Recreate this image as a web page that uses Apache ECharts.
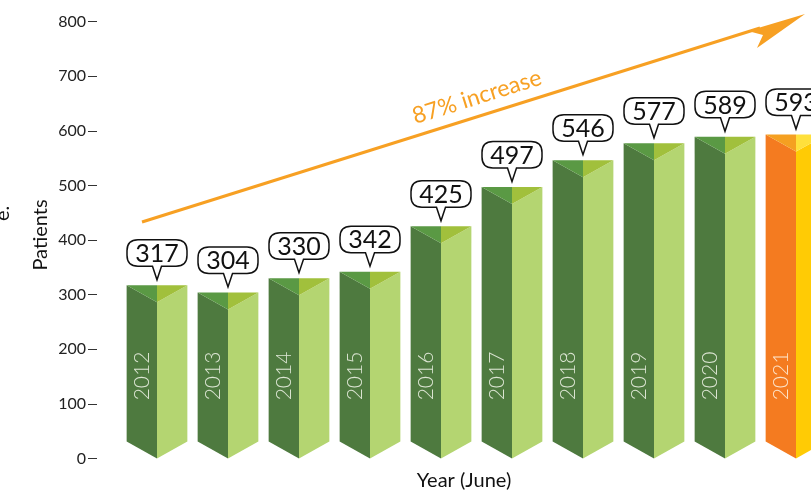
<!DOCTYPE html>
<html>
<head>
<meta charset="utf-8">
<script src="https://cdn.jsdelivr.net/npm/echarts@6/dist/echarts.min.js"></script>
<style>
html,body{margin:0;padding:0;background:#fff;}
#c{width:811px;height:493px;}
</style>
</head>
<body>
<div id="c"></div>
<script>
// ---- data ----
const years = ['2012','2013','2014','2015','2016','2017','2018','2019','2020','2021'];
const patients = [317, 304, 330, 342, 425, 497, 546, 577, 589, 593];
const yTicks = [0, 100, 200, 300, 400, 500, 600, 700, 800];
const increaseLabel = '87% increase';

// ---- styles ----
const greenFaces = {left:'#4e7a3f', right:'#b4d571', topLeft:'#5a9944', topRight:'#a1c03c', text:'#dce5d3'};
const orangeFaces = {left:'#f47b20', right:'#ffcb05', topLeft:'#f5a021', topRight:'#ffe03c', text:'#fde3c8'};
const FONT = 'Lato, "Open Sans", sans-serif';

const chart = echarts.init(document.getElementById('c'), null, {renderer:'canvas'});

function renderItem(params, api) {
  const idx = api.value(0);
  const v = api.value(1);
  const top = api.coord([idx, v]);
  const base = api.coord([idx, 0]);
  const bw = api.size([1, 0])[0] * 0.855;
  const half = bw / 2;
  const d = 17;
  const cx = top[0], xl = cx - half, xr = cx + half, yt = top[1], y0 = base[1];
  const c = idx === years.length - 1 ? orangeFaces : greenFaces;
  // callout bubble
  const bw2 = 30, bh = 26.5, r = 11;
  const bb = yt - 19, btop = bb - bh, tip = yt - 5.5, pw = 4.5;
  const bl = cx - bw2, br = cx + bw2;
  const path = [
    'M', bl + r, btop,
    'L', br - r, btop,
    'Q', br, btop, br, btop + r,
    'L', br, bb - r,
    'Q', br, bb, br - r, bb,
    'L', cx + pw, bb,
    'L', cx, tip,
    'L', cx - pw, bb,
    'L', bl + r, bb,
    'Q', bl, bb, bl, bb - r,
    'L', bl, btop + r,
    'Q', bl, btop, bl + r, btop,
    'Z'
  ].join(' ');
  return {
    type: 'group',
    children: [
      {type:'polygon', shape:{points:[[xl,yt],[cx,yt+d],[cx,y0],[xl,y0-d]]}, style:{fill:c.left}},
      {type:'polygon', shape:{points:[[cx,yt+d],[xr,yt],[xr,y0-d],[cx,y0]]}, style:{fill:c.right}},
      {type:'polygon', shape:{points:[[xl,yt],[cx,yt],[cx,yt+d]]}, style:{fill:c.topLeft}},
      {type:'polygon', shape:{points:[[cx,yt],[xr,yt],[cx,yt+d]]}, style:{fill:c.topRight}},
      {type:'text', x:(xl+cx)/2, y:376, rotation:Math.PI/2,
        style:{text:years[idx], fill:c.text, font:'300 21px ' + FONT, align:'center', verticalAlign:'middle'}},
      {type:'path', shape:{pathData:path}, style:{fill:'#fff', stroke:'#111', lineWidth:1.5}},
      {type:'text', x:cx, y:btop + bh/2 + 1,
        style:{text:String(v), fill:'#111', font:'25px ' + FONT, align:'center', verticalAlign:'middle'}}
    ]
  };
}

const option = {
  animation: false,
  backgroundColor: '#fff',
  grid: {left:121.5, right:-20.5, top:21.5, bottom:34.5, containLabel:false, outerBoundsMode:'none'},
  xAxis: {
    type:'category', data: years, boundaryGap:true,
    axisLine:{show:false}, axisTick:{show:false}, axisLabel:{show:false}, splitLine:{show:false}
  },
  yAxis: {
    type:'value', min:0, max:800, interval:100, offset:24.5,
    axisLine:{show:false},
    axisTick:{show:true, length:9, lineStyle:{color:'#333', width:1}},
    axisLabel:{fontSize:16, color:'#222', margin:11, fontFamily:FONT,
      formatter: function(val){ return yTicks.indexOf(val) >= 0 ? String(val) : ''; }},
    splitLine:{show:false}
  },
  series: [{
    type:'custom',
    renderItem: renderItem,
    data: patients.map((v, i) => [i, v]),
    clip: false
  }],
  graphic: [
    {type:'line', shape:{x1:142, y1:222, x2:760, y2:28}, style:{stroke:'#f7a023', lineWidth:3}},
    {type:'polygon', shape:{points:[[748,31],[805,14],[757,48],[763,35]]}, style:{fill:'#f7a023'}},
    {type:'text', x:477, y:97, rotation:0.304,
      style:{text:increaseLabel, fill:'#f7a023', font:'23px ' + FONT, align:'center', verticalAlign:'middle'}},
    {type:'text', x:41, y:235, rotation:Math.PI/2,
      style:{text:'Patients', fill:'#111', font:'20px ' + FONT, align:'center', verticalAlign:'middle'}},
    {type:'text', x:464, y:481,
      style:{text:'Year (June)', fill:'#111', font:'20px ' + FONT, align:'center', verticalAlign:'middle'}},
    {type:'text', x:13, y:221, rotation:Math.PI/2,
      style:{text:'e.', fill:'#111', font:'20px ' + FONT, align:'left', verticalAlign:'bottom'}}
  ]
};
chart.setOption(option);
</script>
</body>
</html>
